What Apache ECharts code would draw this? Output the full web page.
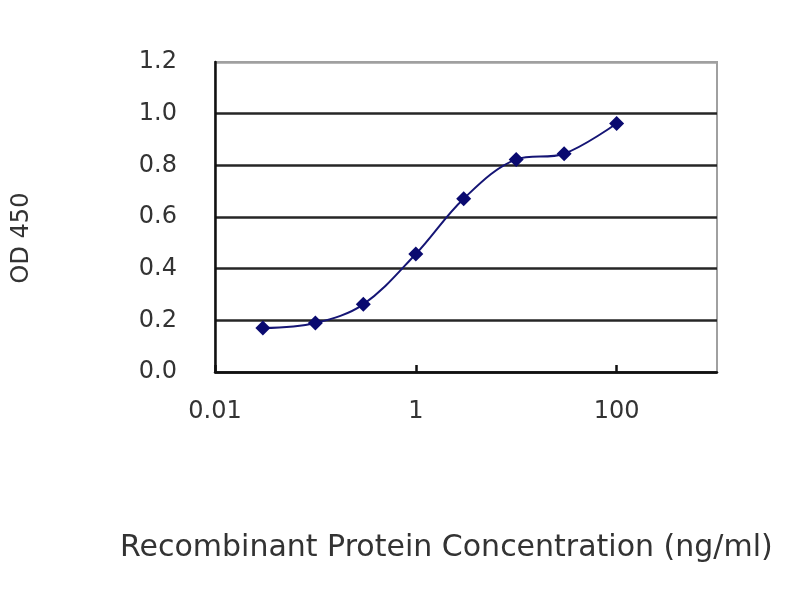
<!DOCTYPE html>
<html>
<head>
<meta charset="utf-8">
<script src="https://cdn.jsdelivr.net/npm/echarts@6/dist/echarts.min.js"></script>
<style>html,body{margin:0;padding:0;background:#fff}#c{width:800px;height:600px}</style>
</head>
<body>
<div id="c"></div>
<script>
var concentrations = [0.03, 0.1, 0.3, 1, 3, 10, 30, 100];
var od450 = [0.17, 0.19, 0.262, 0.457, 0.671, 0.823, 0.845, 0.962];
var yTicks = [0, 0.2, 0.4, 0.6, 0.8, 1.0, 1.2];
var xTickLabels = ['0.01', '1', '100'];
var xTitle = 'Recombinant Protein Concentration (ng/ml)';
var yTitle = 'OD 450';

var chart = echarts.init(document.getElementById('c'), null, {renderer: 'canvas'});
var font = 'DejaVu Sans';
var pts = concentrations.map(function (x, i) { return [x, od450[i]]; });

chart.setOption({
  animation: false,
  backgroundColor: '#fff',
  grid: {left: 215, right: 83, top: 62, bottom: 228, show: true, borderColor: '#a0a0a0', borderWidth: 2, backgroundColor: 'transparent'},
  xAxis: {
    type: 'log', logBase: 100, min: 0.01, max: 1000,
    axisLine: {show: true, onZero: false, lineStyle: {color: '#111', width: 2.5}},
    axisTick: {show: true, inside: true, length: 7, lineStyle: {color: '#111', width: 2.5}},
    splitLine: {show: false},
    axisLabel: {
      margin: 28, fontFamily: font, fontSize: 24, color: '#333', showMaxLabel: false,
      formatter: function (v) {
        for (var i = 0; i < xTickLabels.length; i++) {
          if (Math.abs(Math.log10(v) - Math.log10(parseFloat(xTickLabels[i]))) < 1e-6) return xTickLabels[i];
        }
        return '';
      }
    }
  },
  yAxis: {
    type: 'value', min: yTicks[0], max: yTicks[yTicks.length - 1], interval: 0.2,
    axisLine: {show: true, lineStyle: {color: '#111', width: 2.5}},
    axisTick: {show: false},
    splitLine: {show: true, lineStyle: {color: ['#262626', '#262626', '#262626', '#262626', '#262626', '#262626', '#a0a0a0'], width: 2.5}},
    axisLabel: {margin: 38, fontFamily: font, fontSize: 24, color: '#333', formatter: function (v) { return v.toFixed(1); }}
  },
  series: [{
    type: 'line', data: pts, smooth: 0.35,
    symbol: 'diamond', symbolSize: 15,
    itemStyle: {color: '#0a0a70'},
    lineStyle: {color: '#151575', width: 2}
  }],
  graphic: [
    {type: 'text', left: 120, top: 533, style: {text: xTitle, font: '30px "DejaVu Sans"', fill: '#333'}},
    {type: 'text', x: 22, y: 238, rotation: Math.PI / 2, style: {text: yTitle, font: '24px "DejaVu Sans"', fill: '#333', textAlign: 'center', textVerticalAlign: 'middle'}}
  ]
});
</script>
</body>
</html>
